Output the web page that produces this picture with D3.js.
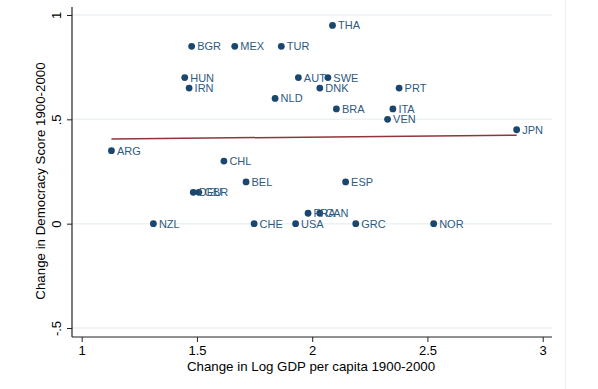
<!DOCTYPE html>
<html>
<head>
<meta charset="utf-8">
<script src="https://cdn.jsdelivr.net/npm/d3@7"></script>
<style>
  html, body { margin: 0; padding: 0; background: #ffffff; }
  svg { display: block; }
  text { font-family: "Liberation Sans", Arial, sans-serif; }
</style>
</head>
<body>
<svg id="chart" width="598" height="389"></svg>
<script>
// ---- data ----
const countries = ["THA","BGR","MEX","TUR","HUN","IRN","AUT","SWE","DNK","PRT","NLD","BRA","ITA","VEN","JPN","ARG","CHL","BEL","ESP","DEU","GBR","FRA","CAN","NZL","CHE","USA","GRC","NOR"];
const gdpChange = [2.088,1.477,1.664,1.866,1.447,1.466,1.940,2.068,2.033,2.377,1.839,2.105,2.350,2.327,2.887,1.129,1.617,1.713,2.145,1.484,1.508,1.982,2.033,1.311,1.748,1.928,2.189,2.527];
const demChange = [0.95,0.85,0.85,0.85,0.70,0.65,0.70,0.70,0.65,0.65,0.60,0.55,0.55,0.50,0.45,0.35,0.30,0.20,0.20,0.15,0.15,0.05,0.05,0,0,0,0,0];
const fitX = [1.129, 2.887];
const fitY = [0.406, 0.424];
const xTicks = [1, 1.5, 2, 2.5, 3];
const xTickLabels = ["1", "1.5", "2", "2.5", "3"];
const yTicks = [-0.5, 0, 0.5, 1];
const yTickLabels = ["-.5", "0", ".5", "1"];
const xTitle = "Change in Log GDP per capita 1900-2000";
const yTitle = "Change in Democracy Score 1900-2000";

// ---- layout ----
const svg = d3.select("#chart");
const plotLeft = 72, plotRight = 552, plotTop = 7, plotBottom = 337;
const x = d3.scaleLinear().domain([1, 3]).range([81.7, 542.7]);
const y = d3.scaleLinear().domain([-0.5, 1]).range([328, 15]);
const navy = "#1a476f";

// outer light divider
svg.append("line").attr("x1", 565.5).attr("x2", 565.5).attr("y1", 0).attr("y2", 389)
  .attr("stroke", "#eef2f4").attr("stroke-width", 1.5);

// gridlines
svg.append("g").selectAll("line").data(yTicks).join("line")
  .attr("x1", plotLeft).attr("x2", plotRight)
  .attr("y1", d => y(d)).attr("y2", d => y(d))
  .attr("stroke", "#eaf2f3").attr("stroke-width", 1.5);

// y axis
const yAxis = d3.axisLeft(y).tickValues(yTicks).tickSize(5)
  .tickFormat((d, i) => yTickLabels[i]);
const gy = svg.append("g").attr("transform", `translate(${plotLeft},0)`).call(yAxis);
gy.select(".domain").attr("d", `M0,${plotTop}V${plotBottom}`).attr("stroke", "#222").attr("stroke-width", 1.2);
gy.selectAll(".tick line").attr("stroke", "#222");
gy.selectAll(".tick text")
  .attr("x", 0).attr("y", 0)
  .attr("transform", "translate(-11,0) rotate(-90)")
  .attr("text-anchor", "middle").attr("dy", "0em")
  .attr("font-size", 13).attr("fill", "#000")
  .style("font-family", "'Liberation Sans', Arial, sans-serif");

// x axis
const xAxis = d3.axisBottom(x).tickValues(xTicks).tickSize(5)
  .tickFormat((d, i) => xTickLabels[i]);
const gx = svg.append("g").attr("transform", `translate(0,${plotBottom})`).call(xAxis);
gx.select(".domain").attr("d", `M${plotLeft},0H${plotRight}`).attr("stroke", "#222").attr("stroke-width", 1.2);
gx.selectAll(".tick line").attr("stroke", "#222");
gx.selectAll(".tick text").attr("y", 9).attr("dy", "0.71em")
  .attr("font-size", 13).attr("fill", "#000")
  .style("font-family", "'Liberation Sans', Arial, sans-serif");

// titles
svg.append("text").attr("x", 311).attr("y", 371).attr("text-anchor", "middle")
  .attr("font-size", 13.3).attr("fill", "#000").text(xTitle);
svg.append("text").attr("transform", `translate(45,181) rotate(-90)`)
  .attr("text-anchor", "middle").attr("font-size", 13.3).attr("fill", "#000").text(yTitle);

// fit line
const fitData = fitX.map((v, i) => [v, fitY[i]]);
svg.append("path").datum(fitData)
  .attr("d", d3.line().x(d => x(d[0])).y(d => y(d[1])))
  .attr("fill", "none").attr("stroke", "#90353b").attr("stroke-width", 1.5);

// points
const pts = countries.map((c, i) => ({c, gx: gdpChange[i], dy: demChange[i]}));
svg.append("g").selectAll("circle").data(pts).join("circle")
  .attr("cx", d => x(d.gx)).attr("cy", d => y(d.dy)).attr("r", 3.4)
  .attr("fill", navy);
svg.append("g").selectAll("text").data(pts).join("text")
  .attr("x", d => x(d.gx) + 5.5).attr("y", d => y(d.dy)).attr("dy", "0.36em")
  .attr("font-size", 11).attr("fill", "#2e5a80").text(d => d.c);
</script>
</body>
</html>
